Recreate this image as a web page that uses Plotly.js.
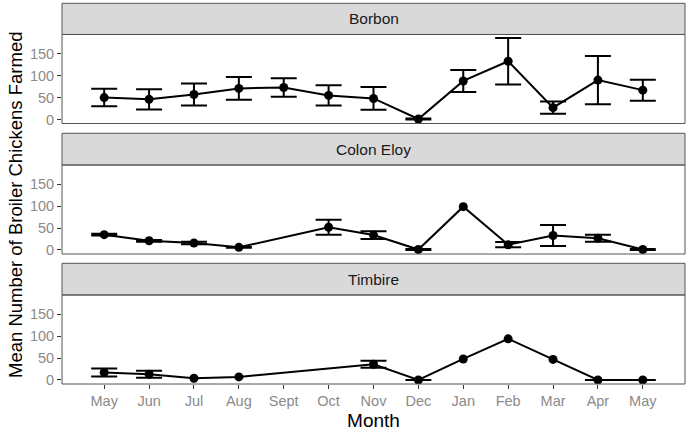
<!DOCTYPE html>
<html>
<head>
<meta charset="utf-8">
<script src="https://cdn.plot.ly/plotly-3.0.1.min.js"></script>
<style>html,body{margin:0;padding:0;background:#fff;}#chart{width:689px;height:434px;}</style>
</head>
<body>
<div id="chart"></div>
<script>
// Data
const months = ["May","Jun","Jul","Aug","Sept","Oct","Nov","Dec","Jan","Feb","Mar","Apr","May"];
const sites = ["Borbon","Colon Eloy","Timbire"];
const borbonMean = [50,46,57,71,73,55,48,1,88,133,27,90,67];
const borbonErr  = [20,23,25,26,21,23,26,1,25,53,14,55,24];
const colonMean  = [35,21,16,6,null,52,34,1,99,12,33,27,1];
const colonErr   = [2,2,3,1,null,17,9,1,null,6,24,8,1];
const timbireMean = [17,13,4,7,null,null,36,0,48,94,47,0,0];
const timbireErr  = [9,8,null,null,null,null,8,0,null,null,null,0,0];

const means = [borbonMean, colonMean, timbireMean];
const errs = [borbonErr, colonErr, timbireErr];
const xIdx = months.map((m, i) => i);

const yAxisIds = ["y", "y2", "y3"];
const domains = [[0.6784, 0.9102], [0.3385, 0.5703], [0, 0.2318]];
const stripTops = [0.9914, 0.6529, 0.3143];

const traces = means.map((m, k) => ({
  type: "scatter",
  mode: "lines+markers",
  x: xIdx,
  y: m,
  xaxis: "x",
  yaxis: yAxisIds[k],
  connectgaps: true,
  line: {color: "#000", width: 2},
  marker: {color: "#000", size: 9},
  error_y: {
    type: "data",
    array: errs[k].map(v => v === null ? NaN : v),
    visible: true,
    color: "#000",
    thickness: 2,
    width: 13
  },
  showlegend: false,
  hoverinfo: "x+y"
}));

const tickFont = {family: "Liberation Sans, Arial, sans-serif", size: 14.5, color: "#8a8a8a"};

const layout = {
  width: 689,
  height: 434,
  margin: {l: 62, r: 4, t: 0, b: 50},
  paper_bgcolor: "#fff",
  plot_bgcolor: "#fff",
  font: {family: "Liberation Sans, Arial, sans-serif"},
  xaxis: {
    domain: [0, 1],
    anchor: "y3",
    range: [-0.94, 12.94],
    tickvals: xIdx,
    ticktext: months,
    ticks: "outside",
    ticklen: 4,
    tickcolor: "#333",
    tickwidth: 1,
    showgrid: false,
    zeroline: false,
    showline: false,
    tickfont: tickFont,
    title: {text: "Month", font: {size: 19, color: "#000"}, standoff: 5}
  },
  shapes: [],
  annotations: [{
    text: "Mean Number of Broiler Chickens Farmed",
    xref: "paper", yref: "paper",
    x: -0.0754, y: (384 - 205) / 384,
    xanchor: "center", yanchor: "middle",
    textangle: -90,
    showarrow: false,
    font: {size: 18.5, color: "#000", family: "Liberation Sans, Arial, sans-serif"}
  }]
};

yAxisIds.forEach((id, k) => {
  const key = k === 0 ? "yaxis" : "yaxis" + (k + 1);
  layout[key] = {
    domain: domains[k],
    anchor: "x",
    range: [-9.25, 194.25],
    tickvals: [0, 50, 100, 150],
    ticks: "outside",
    ticklen: 4,
    tickcolor: "#333",
    tickwidth: 1,
    showgrid: false,
    zeroline: false,
    showline: false,
    tickfont: tickFont
  };
  // strip
  layout.shapes.push({
    type: "rect", xref: "paper", yref: "paper",
    x0: 0, x1: 1, y0: domains[k][1], y1: stripTops[k],
    fillcolor: "#d9d9d9", line: {color: "#555", width: 1}, layer: "below"
  });
  // panel border
  layout.shapes.push({
    type: "rect", xref: "paper", yref: "paper",
    x0: 0, x1: 1, y0: domains[k][0], y1: domains[k][1],
    fillcolor: "rgba(0,0,0,0)", line: {color: "#555", width: 1}, layer: "above"
  });
  layout.annotations.push({
    text: sites[k],
    xref: "paper", yref: "paper",
    x: 0.5, y: (domains[k][1] + stripTops[k]) / 2,
    xanchor: "center", yanchor: "middle",
    showarrow: false,
    font: {size: 15.5, color: "#1a1a1a", family: "Liberation Sans, Arial, sans-serif"}
  });
});

Plotly.newPlot("chart", traces, layout, {displayModeBar: false, staticPlot: true});
</script>
</body>
</html>
